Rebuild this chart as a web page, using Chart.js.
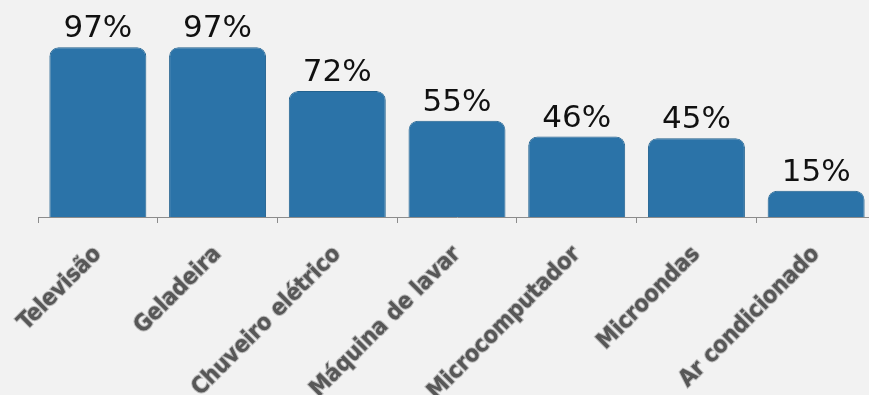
<!DOCTYPE html>
<html>
<head>
<meta charset="utf-8">
<script src="https://cdn.jsdelivr.net/npm/chart.js@4.4.1/dist/chart.umd.min.js"></script>
<style>
  html, body { margin: 0; padding: 0; background: #f2f2f2; overflow: hidden; width: 869px; height: 395px; }
  #wrap { position: absolute; left: 0; top: 0; width: 876px; height: 395px; }
</style>
</head>
<body>
<div id="wrap"><canvas id="c" width="876" height="395"></canvas></div>
<script>
const categories = ["Televisão", "Geladeira", "Chuveiro elétrico", "Máquina de lavar", "Microcomputador", "Microondas", "Ar condicionado"];
const values = [97, 97, 72, 55, 46, 45, 15];
const valueLabels = ["97%", "97%", "72%", "55%", "46%", "45%", "15%"];

const valueLabelPlugin = {
  id: 'valueLabels',
  afterDatasetsDraw(chart) {
    const ctx = chart.ctx;
    const meta = chart.getDatasetMeta(0);
    ctx.save();
    ctx.font = '31px "DejaVu Sans", Verdana, sans-serif';
    ctx.fillStyle = '#111111';
    ctx.textAlign = 'center';
    ctx.textBaseline = 'alphabetic';
    meta.data.forEach((bar, i) => {
      ctx.fillText(valueLabels[i], bar.x, bar.y - 10);
    });
    ctx.restore();
  }
};

const barGradient = (context) => {
  const chart = context.chart;
  const el = context.element;
  if (!el || !chart.chartArea) return '#2b73a8';
  const w = el.width || 97;
  const x0 = el.x - w / 2, x1 = el.x + w / 2;
  if (!isFinite(x0) || !isFinite(x1)) return '#2b73a8';
  const g = chart.ctx.createLinearGradient(x0, 0, x1, 0);
  g.addColorStop(0, '#1f5e8f');
  g.addColorStop(0.06, '#2a72a8');
  g.addColorStop(0.94, '#2a72a8');
  g.addColorStop(1, '#1f5e8f');
  return g;
};

new Chart(document.getElementById('c'), {
  type: 'bar',
  data: {
    labels: categories,
    datasets: [{
      data: values,
      backgroundColor: barGradient,
      borderColor: '#22628f',
      borderWidth: 1,
      borderSkipped: 'bottom',
      borderRadius: { topLeft: 9, topRight: 9, bottomLeft: 0, bottomRight: 0 },
      categoryPercentage: 0.81,
      barPercentage: 1.0
    }]
  },
  options: {
    responsive: false,
    animation: false,
    devicePixelRatio: 1,
    layout: { padding: { left: 38, right: 0, top: 42, bottom: 0 } },
    plugins: { legend: { display: false }, tooltip: { enabled: false } },
    scales: {
      y: { display: false, min: 0, max: 100 },
      x: {
        afterFit(scale) { scale.height = 178; },
        grid: {
          offset: true,
          drawOnChartArea: false,
          drawTicks: true,
          tickLength: 6,
          color: '#8c8c8c',
          lineWidth: 1
        },
        border: { display: true, color: '#8c8c8c', width: 1 },
        ticks: {
          autoSkip: false,
          minRotation: 45,
          maxRotation: 45,
          padding: 18,
          color: '#575757',
          textStrokeColor: 'rgba(150,150,150,0.6)',
          textStrokeWidth: 2,
          font: { family: '"DejaVu Sans Condensed", "DejaVu Sans", sans-serif', weight: 'bold', size: 23 }
        }
      }
    }
  },
  plugins: [valueLabelPlugin]
});
</script>
</body>
</html>
